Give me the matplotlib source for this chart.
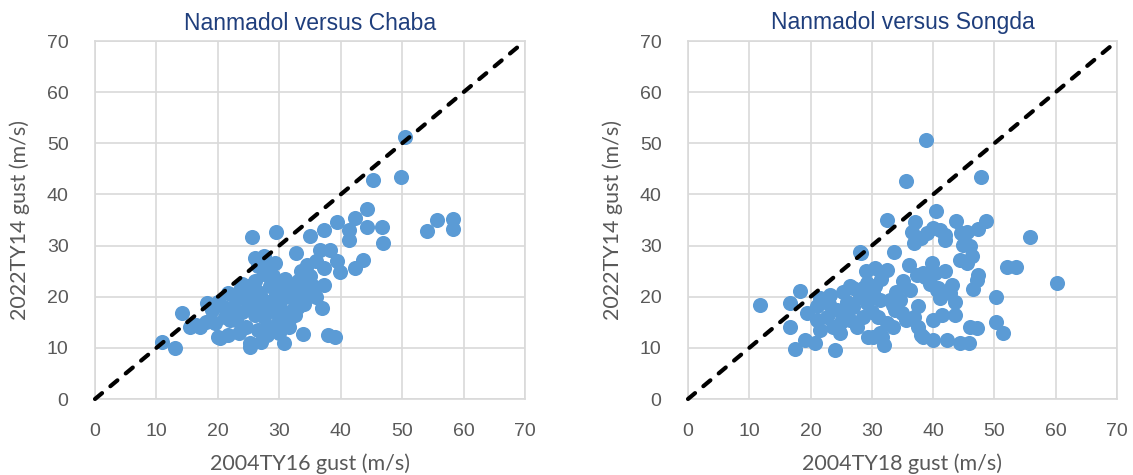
import matplotlib
matplotlib.use("Agg")
import matplotlib.pyplot as plt

# ---------------- data ----------------
chaba_x = [10.9, 13.0, 14.1, 15.5, 17.1, 18.2, 16.5, 18.0, 19.5, 20.1, 21.7, 20.4, 21.2, 21.7, 23.6,
           22.5, 23.0, 24.0, 24.5, 25.2, 25.2, 27.1, 25.5, 26.1, 29.4, 29.3, 30.7,
           25.5, 26.5, 27.0, 27.5, 28.0, 28.5, 29.0, 29.5, 30.0, 30.5, 31.0, 31.5, 31.8, 32.0, 32.5,
           33.0, 33.5, 33.9, 34.0, 34.5, 32.8, 35.0, 35.5, 36.0, 36.9, 37.2, 36.6, 37.2, 37.2, 38.3,
           38.0, 39.1, 39.4, 39.4, 39.9, 41.3, 41.3, 42.3, 42.3, 43.7, 44.2, 44.2, 45.2, 46.7, 46.9,
           49.8, 50.5, 54.0, 55.6, 58.2, 58.3,
           19.0, 20.0, 21.0, 22.0, 23.0, 24.0, 25.0, 26.0, 27.0, 28.0, 29.0, 30.0, 31.0, 26.0, 27.5,
           28.5, 25.0, 24.0, 22.0, 23.5, 26.5, 28.0, 29.5, 30.0, 31.5, 32.5, 33.0, 34.5, 35.0, 36.0,
           33.5, 34.0, 27.5, 26.5]
chaba_y = [11.2, 9.9, 16.8, 14.1, 14.1, 18.8, 14.5, 15.0, 14.8, 12.2, 12.5, 11.9, 16.0, 20.7, 21.3,
           18.0, 15.5, 17.0, 14.0, 11.0, 10.2, 11.2, 31.6, 27.5, 32.7, 26.6, 10.9,
           19.5, 21.0, 18.0, 16.0, 14.0, 22.0, 24.0, 20.5, 18.5, 22.5, 20.0, 17.0, 15.8, 21.5, 19.0,
           23.0, 21.0, 12.8, 18.5, 26.2, 28.5, 31.8, 22.0, 20.0, 17.7, 22.3, 29.2, 25.6, 33.1, 29.2,
           12.5, 12.2, 26.9, 34.7, 24.9, 33.1, 31.0, 35.4, 25.6, 27.2, 37.1, 33.6, 42.9, 33.7, 30.5,
           43.5, 51.2, 32.9, 35.0, 35.2, 33.2,
           17.5, 19.0, 18.0, 17.0, 19.5, 20.0, 18.0, 16.5, 20.0, 19.0, 17.5, 16.0, 23.5, 23.0, 24.5,
           26.0, 22.0, 22.5, 15.5, 13.0, 13.5, 12.5, 14.5, 13.0, 14.0, 16.5, 18.0, 20.5, 24.0, 27.0,
           25.0, 22.5, 28.0, 26.0]

songda_x = [11.7, 16.6, 18.3, 17.5, 24.0, 16.6, 19.1, 20.7, 21.5, 23.2, 25.3, 27.0, 28.6, 19.4, 21.0,
            22.6, 24.3, 23.7, 21.5, 24.8, 26.4, 27.5, 29.2, 29.4, 21.0, 28.1,
            32.4, 38.8, 35.5, 47.8, 40.5, 37.0, 36.5, 41.1, 41.9, 38.1, 36.8, 43.8, 48.6, 47.4, 45.5,
            44.9, 55.8, 33.6, 39.8, 36.0, 38.4, 44.4, 46.3, 45.5, 52.0, 53.6, 60.2, 47.4, 46.5, 43.0,
            42.7, 50.2, 40.6, 37.6, 34.6, 33.5, 40.0, 41.4, 43.6, 50.2, 51.4, 46.0, 47.1, 42.2, 44.4,
            45.8, 38.1, 40.0, 32.4, 31.9, 31.6,
            30.5, 32.4, 38.7, 37.3, 36.2, 40.8, 41.1, 29.2, 30.2, 31.3, 32.9, 33.8, 34.9, 36.8, 33.5,
            31.3, 30.2, 37.6, 38.4, 28.3, 40.3, 39.0, 40.0, 42.0, 44.6, 47.1, 30.0, 28.5, 26.0, 25.5,
            27.0, 28.0, 30.5, 31.5, 29.0, 26.5, 23.0, 25.0, 31.0, 34.0, 35.0, 35.5, 39.5, 42.0, 43.5,
            46.0]
songda_y = [18.4, 18.7, 21.2, 9.7, 9.6, 14.0, 11.5, 10.9, 19.7, 20.4, 21.0, 21.7, 21.7, 16.8, 15.5,
            16.1, 17.4, 14.1, 13.5, 12.9, 15.5, 14.1, 18.7, 12.2, 18.1, 28.7,
            35.0, 50.7, 42.7, 43.4, 36.7, 34.7, 32.7, 33.1, 31.1, 31.4, 30.5, 34.9, 34.9, 33.2, 32.7,
            30.1, 31.6, 28.8, 26.6, 26.2, 24.6, 27.2, 28.0, 26.6, 25.9, 25.9, 22.6, 24.3, 21.5, 22.3,
            20.7, 20.0, 21.3, 18.1, 19.4, 18.4, 15.5, 16.4, 16.4, 15.1, 12.9, 14.0, 13.8, 11.5, 11.0,
            11.0, 12.5, 11.5, 14.8, 10.6, 12.2,
            25.6, 25.2, 23.9, 24.3, 21.3, 21.7, 19.7, 22.6, 20.7, 19.4, 19.4, 17.4, 16.8, 16.1, 14.1,
            12.9, 12.2, 14.1, 12.2, 28.5, 24.6, 32.5, 33.5, 32.0, 32.4, 23.3, 17.0, 16.0, 19.0, 17.5,
            18.0, 20.0, 22.0, 23.5, 25.0, 22.0, 18.5, 15.0, 16.0, 21.0, 23.0, 15.5, 22.5, 25.0, 19.0,
            30.0]

ticks = [0, 10, 20, 30, 40, 50, 60, 70]
titles = ["Nanmadol versus Chaba", "Nanmadol versus Songda"]
xlabels = ["2004TY16 gust (m/s)", "2004TY18 gust (m/s)"]
ylabel = "2022TY14 gust (m/s)"

# ---------------- figure ----------------
W, H = 1133, 475
fig = plt.figure(figsize=(W / 100, H / 100), dpi=100)

point_color = "#5B9BD5"
grid_color = "#D9D9D9"
tick_color = "#595959"
title_color = "#1F3E7C"

axes_px = [(95, 525), (688, 1117)]
top_px, bot_px = 41, 399
datasets = [(chaba_x, chaba_y), (songda_x, songda_y)]

for i, ((x0, x1), (xs, ys)) in enumerate(zip(axes_px, datasets)):
    ax = fig.add_axes([x0 / W, (H - bot_px) / H, (x1 - x0) / W, (bot_px - top_px) / H])
    ax.set_xlim(0, 70)
    ax.set_ylim(0, 70)
    ax.set_xticks(ticks)
    ax.set_yticks(ticks)
    ax.grid(True, color=grid_color, linewidth=1.2, zorder=0)
    ax.set_axisbelow(True)
    for s in ax.spines.values():
        s.set_color(grid_color)
        s.set_linewidth(1.2)
    ax.tick_params(length=0, labelsize=14, labelcolor=tick_color)
    ax.tick_params(axis="x", pad=17)
    ax.tick_params(axis="y", pad=19)
    for lab in ax.get_xticklabels() + ax.get_yticklabels():
        lab.set_fontfamily("Liberation Sans")
    ax.scatter(xs, ys, s=118, color=point_color, linewidths=0, zorder=3)
    ax.plot([0, 70], [0, 70], color="black", linewidth=3,
            linestyle=(0, (2.2, 2.6)), dash_capstyle="round", zorder=4, clip_on=False)
    cx = (x0 + x1) / 2 / W
    fig.text(cx, 1 - 23 / H, titles[i], ha="center", va="center", fontsize=16.5,
             color=title_color, family="Liberation Sans")
    fig.text(cx, 1 - 470 / H, xlabels[i], ha="center", va="baseline", fontsize=15.5,
             color=tick_color, family="Lato")
    fig.text((x0 - 75) / W, 1 - ((top_px + bot_px) / 2) / H, ylabel, ha="center", va="center",
             rotation=90, fontsize=15.5, color=tick_color, family="Lato")

fig.savefig("out.png", dpi=100)
